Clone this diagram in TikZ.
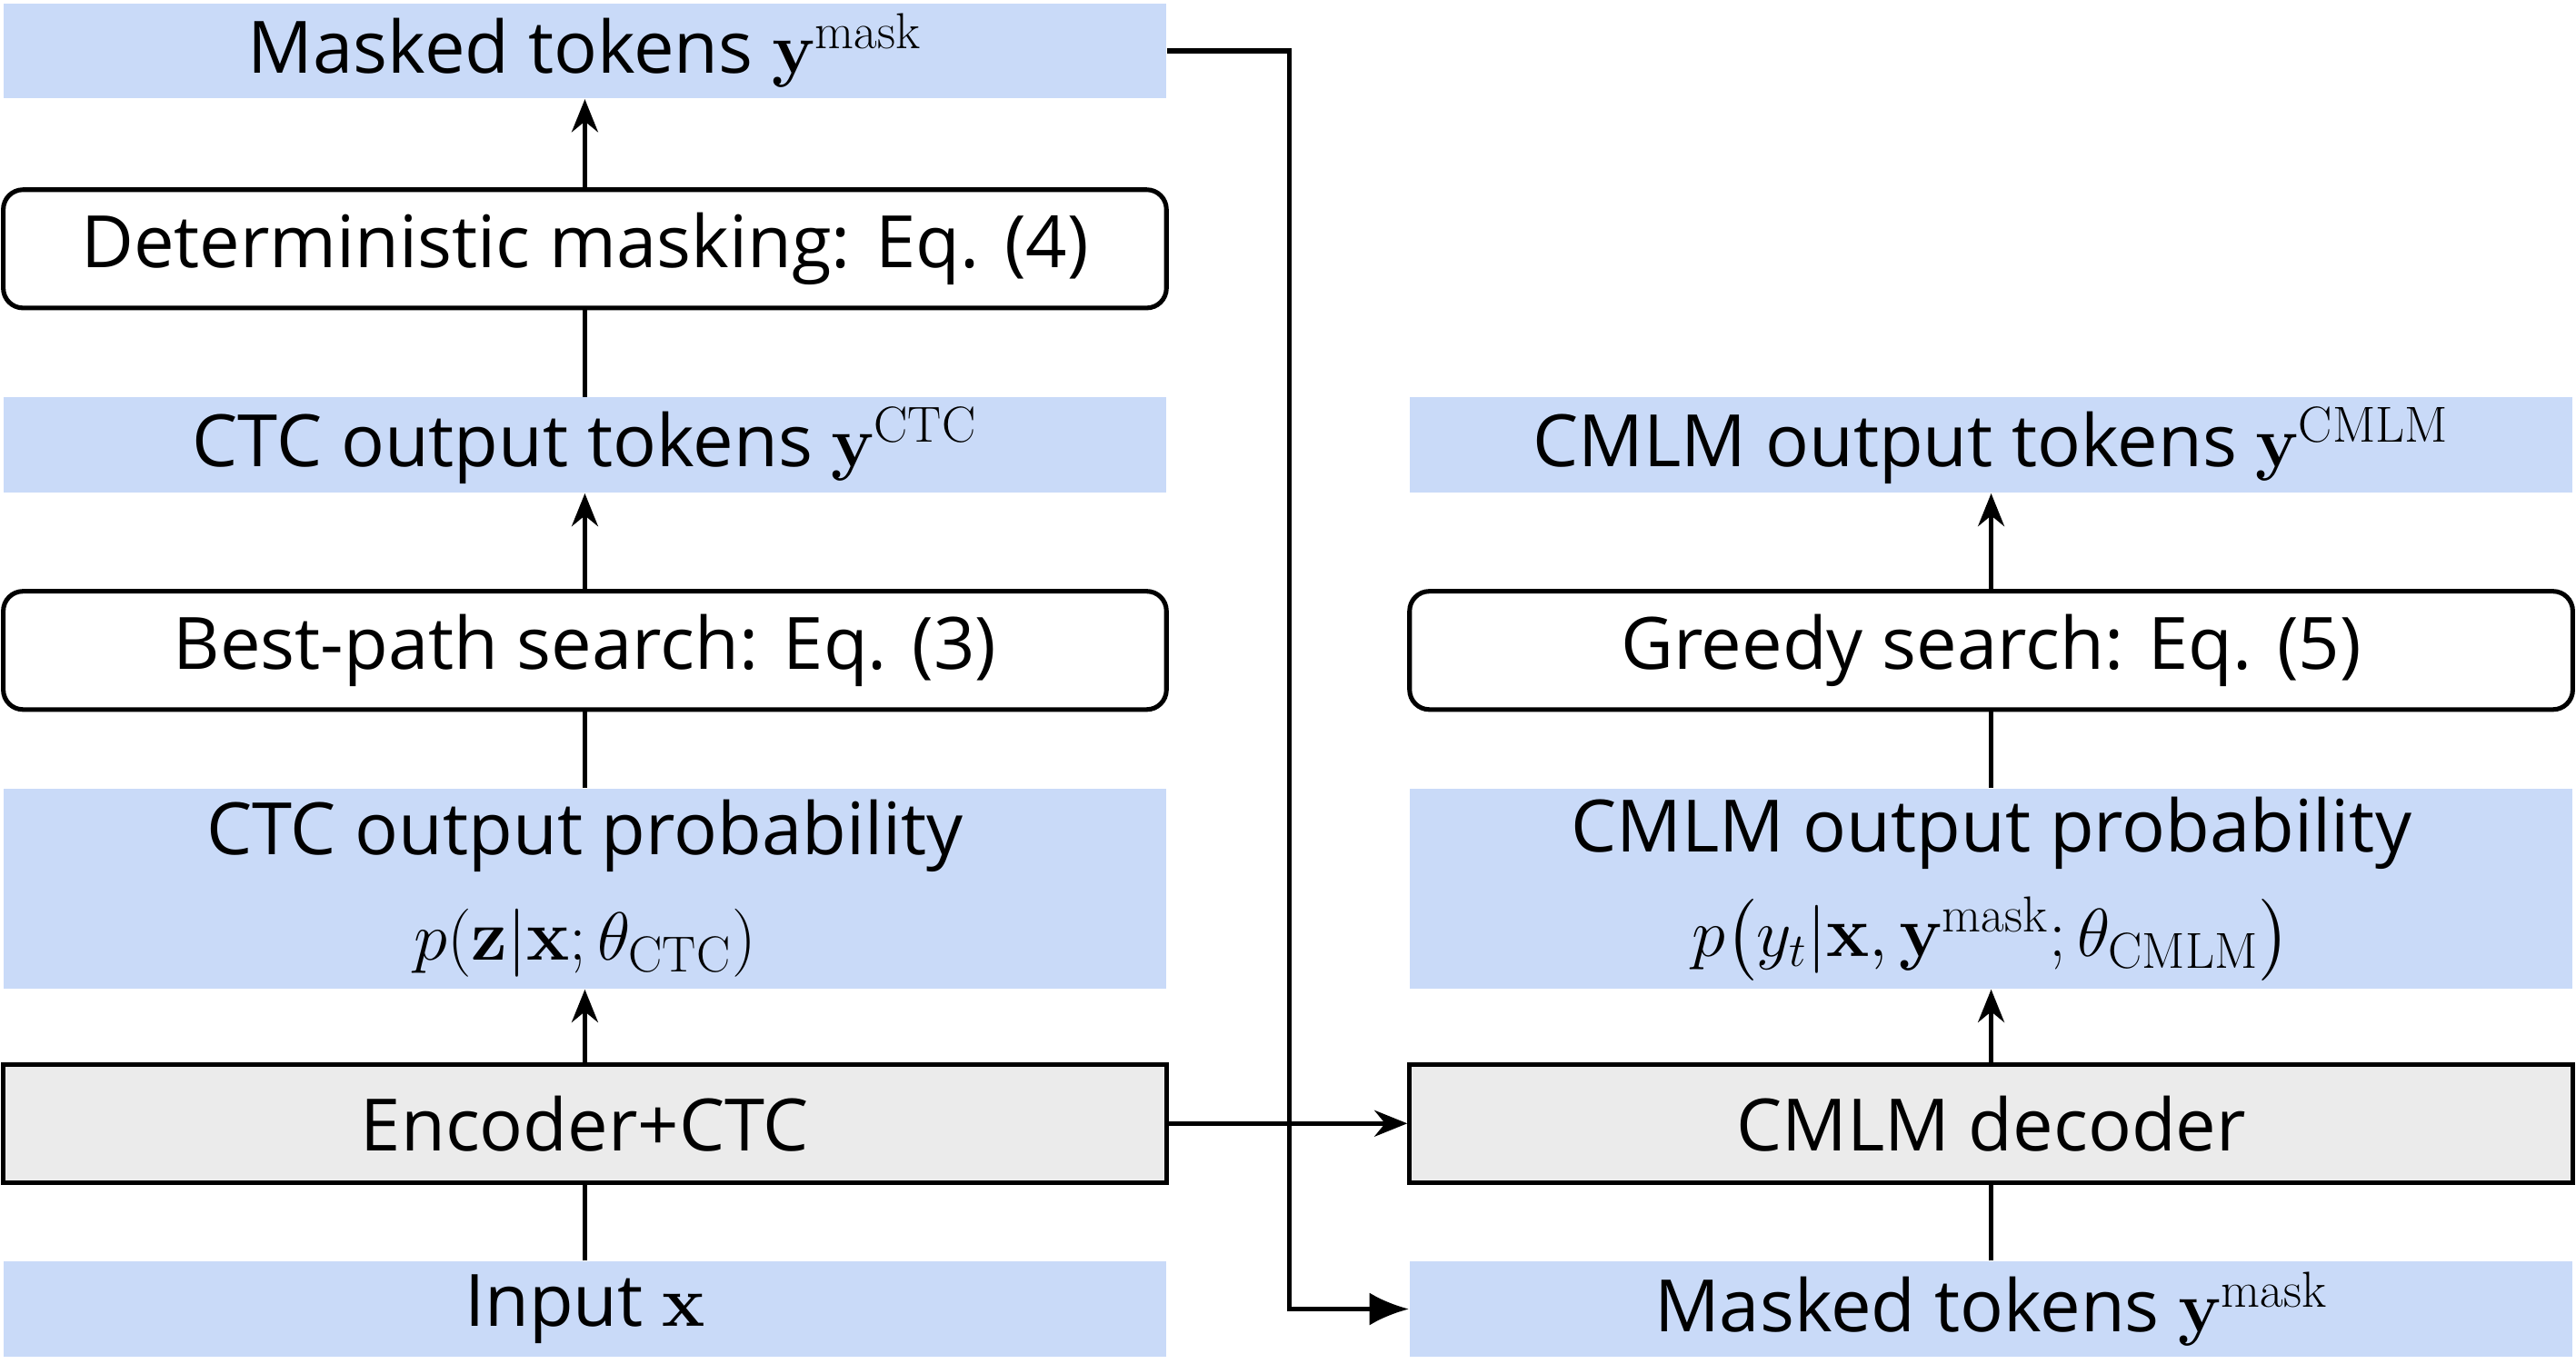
\documentclass[tikz,border=0pt]{standalone}
\usepackage{amsmath}
\usepackage{fontspec}
\setmainfont{Open Sans}
\newfontfamily\mfont{Latin Modern Roman}
\newcommand\vb[1]{\text{\mfont\bfseries #1}}
\newcommand\tm[1]{\text{\mfont #1}}
\usetikzlibrary{arrows.meta}
\definecolor{bl}{HTML}{C9DAF8}
\definecolor{gr}{HTML}{EBEBEB}
\begin{document}
\begin{tikzpicture}[x=0.5pt,y=-0.5pt,
  base/.style={inner sep=0pt,minimum width=354pt,font=\fontsize{22}{26}\selectfont,align=center},
  blue/.style={base,fill=bl,minimum height=29pt},
  bluebig/.style={base,fill=bl,minimum height=61pt},
  rbox/.style={base,draw,line width=1.4pt,rounded corners=6pt,minimum height=36pt},
  gbox/.style={base,draw,line width=1.4pt,fill=gr,minimum height=36pt},
  ar/.style={line width=1.4pt,-{Stealth[length=10pt,width=8pt]}},
  ln/.style={line width=1.4pt}]
\useasboundingbox (0,0) rectangle (1568,830);
\node[blue] (mt) at (356,31) {Masked tokens $\vb{y}^{\tm{mask}}$};
\node[rbox] (dm) at (356,151.5) {Deterministic masking: Eq. (4)};
\node[blue] (ct) at (356,271) {CTC output tokens $\vb{y}^{\tm{CTC}}$};
\node[rbox] (bp) at (356,396) {Best-path search: Eq. (3)};
\node[bluebig] (cp) at (356,541) {CTC output probability\\[6pt] $p(\vb{z}|\vb{x};\theta_{\tm{CTC}})$};
\node[gbox] (en) at (356,684) {Encoder+CTC};
\node[blue] (in) at (356,797) {Input $\vb{x}$};
\node[blue] (mo) at (1212,271) {CMLM output tokens $\vb{y}^{\tm{CMLM}}$};
\node[rbox] (gs) at (1212,396) {Greedy search: Eq. (5)};
\node[bluebig] (mp) at (1212,541) {CMLM output probability\\[6pt] $p\bigl(y_t|\vb{x},\vb{y}^{\tm{mask}};\theta_{\tm{CMLM}}\bigr)$};
\node[gbox] (de) at (1212,684) {CMLM decoder};
\node[blue] (mb) at (1212,797) {Masked tokens $\vb{y}^{\tm{mask}}$};
\draw[ar] (dm) -- (mt);
\draw[ln] (ct) -- (dm);
\draw[ar] (bp) -- (ct);
\draw[ln] (cp) -- (bp);
\draw[ar] (en) -- (cp);
\draw[ln] (in) -- (en);
\draw[ar] (gs) -- (mo);
\draw[ln] (mp) -- (gs);
\draw[ar] (de) -- (mp);
\draw[ln] (mb) -- (de);
\draw[ar] (en) -- (de);
\coordinate (c1) at (785,31);
\coordinate (c2) at (785,797);
\draw[line width=1.4pt,-{Latex[length=12pt,width=10pt]}] (mt.east) -- (c1) -- (c2) -- (mb.west);
\end{tikzpicture}
\end{document}
